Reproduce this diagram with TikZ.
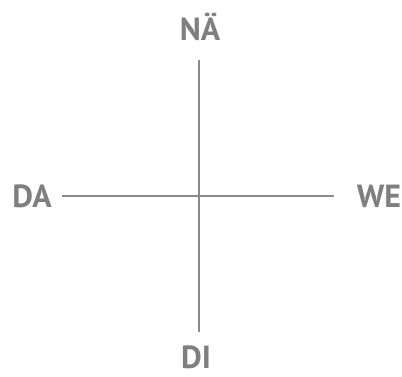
\documentclass[tikz,border=0pt]{standalone}
\usepackage{fontspec}
\setmainfont{PT Sans}
\usepackage{tikz}
\definecolor{axgray}{HTML}{8A8A8A}
\definecolor{lblgray}{HTML}{7F7F7F}
\tikzset{
  axlabel/.style={text=lblgray, font=\fontsize{16}{19}\selectfont\bfseries,
    inner sep=0pt, text depth=0pt},
  axline/.style={axgray, line width=1pt}
}
\begin{document}
\begin{tikzpicture}[x=0.5pt, y=-0.5pt]
    \useasboundingbox (0,0) rectangle (402,376);
    % labels
    \node[axlabel] (na) at (200,27) {NÄ};
    \node[axlabel] (da) at (32,196) {DA};
    \node[axlabel] (we) at (379,196) {WE};
    \node[axlabel] (di) at (196,357) {DI};
    % axis ends
    \coordinate (top) at (199,60);
    \coordinate (bot) at (199,332);
    \coordinate (lft) at (62,196);
    \coordinate (rgt) at (334,196);
    \draw[axline] (top) -- (bot);
    \draw[axline] (lft) -- (rgt);
  \end{tikzpicture}
\end{document}
